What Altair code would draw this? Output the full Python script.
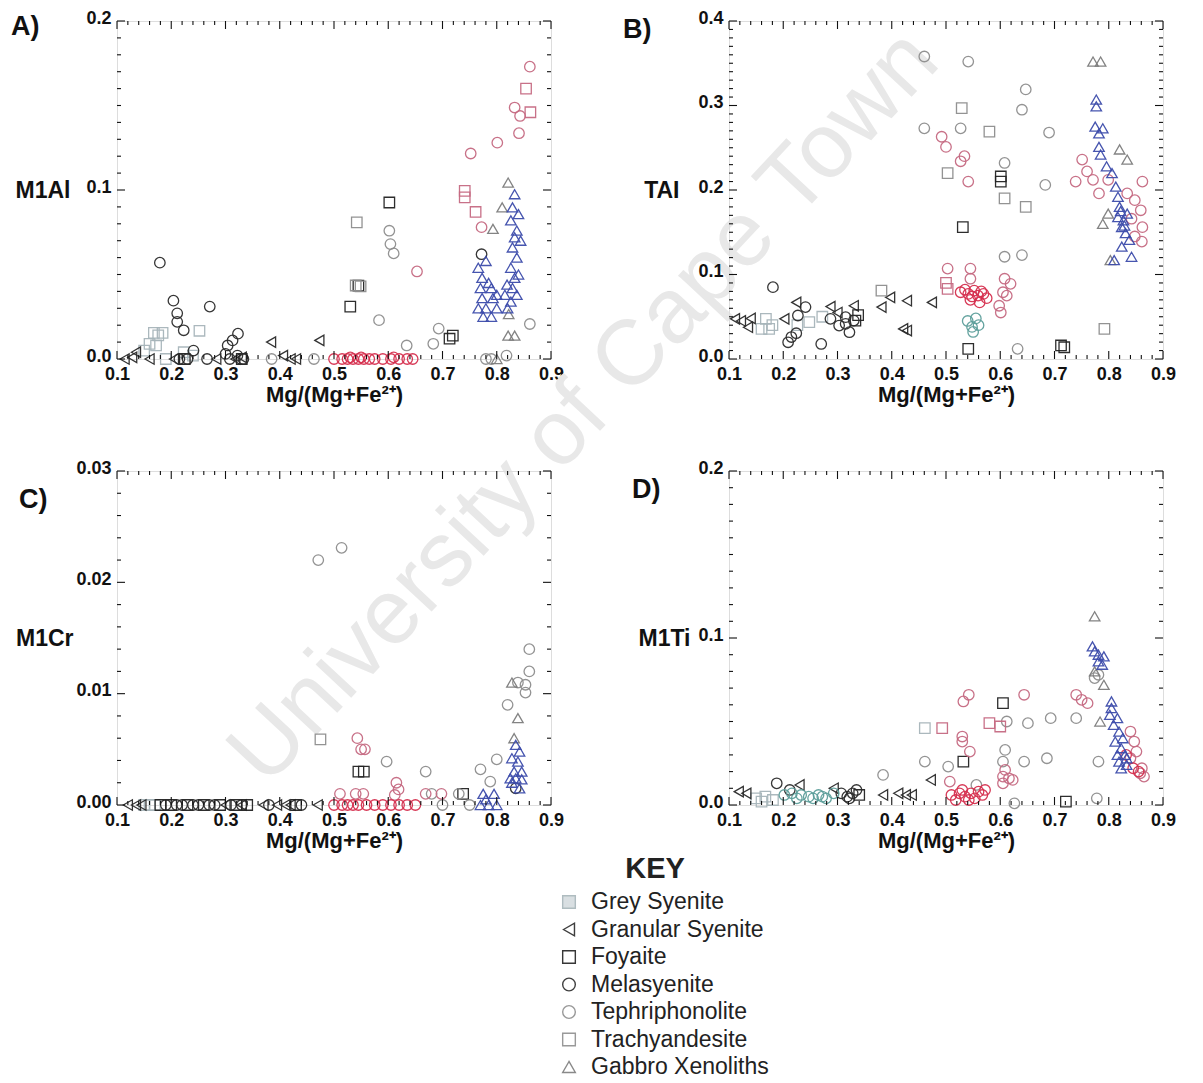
import altair as alt
import numpy as np
import pandas as pd

FONT = "Liberation Sans"
INK = "#111111"

# ---------------- axes / text ----------------
PANEL_LABELS = ["A)", "B)", "C)", "D)"]
Y_TITLES = ["M1Al", "TAI", "M1Cr", "M1Ti"]
X_TITLE = "Mg/(Mg+Fe²⁺)"
X_MAJOR = [0.1, 0.2, 0.3, 0.4, 0.5, 0.6, 0.7, 0.8, 0.9]
Y_MAJOR_A = [0.0, 0.1, 0.2]
Y_MAJOR_B = [0.0, 0.1, 0.2, 0.3, 0.4]
Y_MAJOR_C = [0.0, 0.01, 0.02, 0.03]
Y_MAJOR_D = [0.0, 0.1, 0.2]
Y_FORMATS = [".1f", ".1f", ".2f", ".1f"]
KEY_TITLE = "KEY"
KEY_LABELS = ["Grey Syenite", "Granular Syenite", "Foyaite", "Melasyenite",
              "Tephriphonolite", "Trachyandesite", "Gabbro Xenoliths"]
KEY_GROUPS = ["grey_syenite", "granular", "foyaite", "melasyenite",
              "tephriphonolite", "trachyandesite", "gabbro"]
KEY_FILLS = ["#d5dcdf", "transparent", "transparent", "transparent",
             "transparent", "transparent", "transparent"]
WATERMARK = "University of Cape Town"

# ---------------- groups (symbol + tone) ----------------
GROUP_NAMES = ["grey_syenite", "granular", "foyaite", "melasyenite", "tephriphonolite",
               "trachyandesite", "gabbro", "pink_circle", "pink_square", "red_circle",
               "blue_triangle", "teal_circle"]
GROUP_SHAPES = ["square", "triangle-left", "square", "circle", "circle",
                "square", "triangle-up", "circle", "square", "circle",
                "triangle-up", "circle"]
GROUP_COLORS = ["#a7b5ba", "#2a2a2a", "#222222", "#2c2c2c", "#8e8e8e",
                "#8e8e8e", "#7d7d7d", "#c66a82", "#c66a82", "#d6304f",
                "#3d4cab", "#5d9f9b"]

# ---------------- panel A: M1Al ----------------
A_GREY_SYENITE = [(0.150, 0.005), (0.160, 0.009), (0.168, 0.0155), (0.172, 0.008), (0.176, 0.014),
                  (0.184, 0.0155), (0.190, 0.0), (0.223, 0.004), (0.240, 0.002), (0.252, 0.0167)]
A_GRANULAR = [(0.114, 0.0), (0.128, 0.001), (0.135, 0.004), (0.160, 0.0), (0.205, 0.0), (0.283, 0.0),
              (0.318, 0.0), (0.330, 0.001), (0.384, 0.010), (0.406, 0.002), (0.420, 0.0), (0.430, 0.0),
              (0.473, 0.011)]
A_FOYAITE = [(0.225, 0.0), (0.330, 0.0), (0.530, 0.031), (0.545, 0.0434), (0.602, 0.0926),
             (0.713, 0.012), (0.719, 0.0138)]
A_MELASYENITE = [(0.179, 0.057), (0.204, 0.0345), (0.211, 0.027), (0.211, 0.022), (0.215, 0.0),
                 (0.223, 0.017), (0.230, 0.0), (0.241, 0.005), (0.266, 0.0), (0.271, 0.031),
                 (0.300, 0.003), (0.304, 0.008), (0.308, 0.0), (0.313, 0.011), (0.322, 0.002),
                 (0.323, 0.015), (0.333, 0.0), (0.772, 0.062)]
A_TEPHRIPHONOLITE = [(0.385, 0.0), (0.463, 0.0), (0.583, 0.023), (0.602, 0.0759), (0.604, 0.068),
                     (0.610, 0.0625), (0.634, 0.008), (0.683, 0.009), (0.693, 0.018), (0.780, 0.0),
                     (0.790, 0.0), (0.818, 0.002), (0.861, 0.0207)]
A_TRACHYANDESITE = [(0.540, 0.0435), (0.542, 0.0808), (0.549, 0.043)]
A_GABBRO = [(0.793, 0.077), (0.800, 0.0), (0.810, 0.0897), (0.821, 0.1044), (0.821, 0.0138),
            (0.822, 0.0266), (0.833, 0.0138)]
A_PINK_CIRCLE = [(0.653, 0.0518), (0.752, 0.1216), (0.772, 0.078), (0.801, 0.128), (0.833, 0.1488),
                 (0.841, 0.1336), (0.843, 0.1438), (0.861, 0.173)]
A_PINK_SQUARE = [(0.741, 0.0995), (0.741, 0.0956), (0.761, 0.087), (0.854, 0.160), (0.862, 0.146)]
A_RED_CIRCLE = [(0.500, 0.0), (0.515, 0.0), (0.525, 0.0), (0.530, 0.001), (0.535, 0.0), (0.545, 0.0),
                (0.550, 0.001), (0.555, 0.0), (0.565, 0.0), (0.575, 0.0), (0.590, 0.0), (0.605, 0.0),
                (0.610, 0.001), (0.620, 0.0), (0.635, 0.0), (0.645, 0.0)]
A_BLUE_TRIANGLE = [(0.766, 0.054), (0.773, 0.048), (0.770, 0.042), (0.773, 0.036), (0.780, 0.030),
                   (0.790, 0.042), (0.793, 0.036), (0.785, 0.045), (0.800, 0.038), (0.766, 0.030),
                   (0.800, 0.030), (0.780, 0.058), (0.775, 0.025), (0.790, 0.025), (0.833, 0.0975),
                   (0.829, 0.0897), (0.840, 0.0857), (0.826, 0.082), (0.837, 0.076), (0.833, 0.072),
                   (0.844, 0.070), (0.829, 0.066), (0.837, 0.060), (0.826, 0.054), (0.833, 0.048),
                   (0.819, 0.044), (0.829, 0.042), (0.815, 0.038), (0.826, 0.034), (0.837, 0.038),
                   (0.840, 0.050), (0.820, 0.030)]

# ---------------- panel B: TAl ----------------
B_GREY_SYENITE = [(0.160, 0.0356), (0.168, 0.0475), (0.174, 0.0356), (0.180, 0.040), (0.226, 0.040),
                  (0.248, 0.0436), (0.272, 0.050)]
B_GRANULAR = [(0.111, 0.0475), (0.122, 0.045), (0.135, 0.0376), (0.140, 0.048), (0.202, 0.0475),
              (0.224, 0.067), (0.287, 0.062), (0.300, 0.055), (0.330, 0.063), (0.381, 0.0614),
              (0.397, 0.073), (0.421, 0.0356), (0.428, 0.069), (0.428, 0.0337), (0.474, 0.067)]
B_FOYAITE = [(0.333, 0.0455), (0.338, 0.052), (0.531, 0.156), (0.541, 0.012), (0.601, 0.216),
             (0.601, 0.210), (0.712, 0.016), (0.718, 0.0139)]
B_MELASYENITE = [(0.181, 0.085), (0.209, 0.0198), (0.215, 0.026), (0.224, 0.0305), (0.227, 0.0515),
                 (0.241, 0.0614), (0.270, 0.0178), (0.287, 0.0475), (0.303, 0.0396), (0.315, 0.0495),
                 (0.315, 0.0416), (0.322, 0.0317), (0.330, 0.0455)]
B_TEPHRIPHONOLITE = [(0.460, 0.358), (0.541, 0.352), (0.647, 0.319), (0.640, 0.295), (0.460, 0.273),
                     (0.527, 0.273), (0.690, 0.268), (0.608, 0.232), (0.683, 0.206), (0.640, 0.123),
                     (0.608, 0.121), (0.632, 0.012)]
B_TRACHYANDESITE = [(0.381, 0.081), (0.503, 0.220), (0.529, 0.297), (0.580, 0.269), (0.608, 0.190),
                    (0.647, 0.180), (0.792, 0.0356)]
B_GABBRO = [(0.771, 0.352), (0.785, 0.352), (0.820, 0.248), (0.834, 0.236), (0.799, 0.172),
            (0.789, 0.160), (0.803, 0.117)]
B_PINK_CIRCLE = [(0.492, 0.263), (0.500, 0.251), (0.527, 0.234), (0.534, 0.240), (0.541, 0.210),
                 (0.503, 0.107), (0.545, 0.107), (0.545, 0.095), (0.608, 0.095), (0.619, 0.089),
                 (0.605, 0.079), (0.612, 0.075), (0.598, 0.063), (0.601, 0.055), (0.751, 0.236),
                 (0.760, 0.222), (0.739, 0.210), (0.771, 0.212), (0.782, 0.196), (0.799, 0.212),
                 (0.834, 0.196), (0.848, 0.188), (0.859, 0.176), (0.862, 0.156), (0.861, 0.139),
                 (0.862, 0.210), (0.842, 0.166), (0.848, 0.145)]
B_PINK_SQUARE = [(0.503, 0.083), (0.500, 0.090)]
B_RED_CIRCLE = [(0.527, 0.079), (0.535, 0.082), (0.541, 0.077), (0.548, 0.074), (0.552, 0.081),
                (0.559, 0.075), (0.565, 0.080), (0.569, 0.077), (0.562, 0.067), (0.545, 0.070),
                (0.575, 0.072)]
B_TEAL_CIRCLE = [(0.540, 0.045), (0.548, 0.038), (0.555, 0.048), (0.560, 0.040), (0.550, 0.032)]
B_BLUE_TRIANGLE = [(0.777, 0.307), (0.777, 0.299), (0.775, 0.275), (0.782, 0.267), (0.789, 0.273),
                   (0.782, 0.251), (0.785, 0.242), (0.796, 0.228), (0.806, 0.220), (0.813, 0.204),
                   (0.817, 0.192), (0.820, 0.180), (0.817, 0.168), (0.827, 0.164), (0.824, 0.156),
                   (0.831, 0.149), (0.834, 0.172), (0.838, 0.141), (0.824, 0.133), (0.842, 0.121),
                   (0.810, 0.117), (0.829, 0.158), (0.822, 0.175)]

# ---------------- panel C: M1Cr ----------------
C_GREY_SYENITE = [(0.150, 0.0), (0.160, 0.0), (0.170, 0.0)]
C_GRANULAR = [(0.120, 0.0), (0.135, 0.0), (0.145, 0.0), (0.300, 0.0), (0.330, 0.0), (0.370, 0.0),
              (0.395, 0.0), (0.410, 0.0), (0.420, 0.0), (0.470, 0.0)]
C_FOYAITE = [(0.180, 0.0), (0.200, 0.0), (0.230, 0.0), (0.260, 0.0), (0.290, 0.0), (0.320, 0.0),
             (0.340, 0.0), (0.430, 0.0), (0.545, 0.003), (0.555, 0.003), (0.738, 0.001)]
C_MELASYENITE = [(0.190, 0.0), (0.210, 0.0), (0.220, 0.0), (0.240, 0.0), (0.250, 0.0), (0.270, 0.0),
                 (0.280, 0.0), (0.310, 0.0), (0.330, 0.0), (0.380, 0.0), (0.440, 0.0), (0.835, 0.0015)]
C_TEPHRIPHONOLITE = [(0.471, 0.022), (0.514, 0.0231), (0.820, 0.009), (0.860, 0.014), (0.860, 0.012),
                     (0.839, 0.011), (0.853, 0.0101), (0.853, 0.0108), (0.800, 0.0041),
                     (0.770, 0.0032), (0.597, 0.0039), (0.669, 0.003), (0.788, 0.0021), (0.700, 0.0),
                     (0.730, 0.001), (0.750, 0.0), (0.680, 0.001)]
C_TRACHYANDESITE = [(0.475, 0.0059)]
C_GABBRO = [(0.828, 0.011), (0.839, 0.0078), (0.832, 0.006)]
C_PINK_CIRCLE = [(0.543, 0.006), (0.550, 0.005), (0.557, 0.005), (0.615, 0.002), (0.619, 0.0014),
                 (0.612, 0.0009), (0.511, 0.001), (0.540, 0.001), (0.554, 0.001), (0.698, 0.001),
                 (0.669, 0.001)]
C_RED_CIRCLE = [(0.500, 0.0), (0.515, 0.0), (0.525, 0.0), (0.535, 0.0), (0.545, 0.0), (0.560, 0.0),
                (0.575, 0.0), (0.590, 0.0), (0.605, 0.0), (0.620, 0.0), (0.635, 0.0), (0.650, 0.0)]
C_BLUE_TRIANGLE = [(0.835, 0.0054), (0.842, 0.0048), (0.828, 0.0042), (0.839, 0.0039), (0.832, 0.003),
                   (0.846, 0.003), (0.825, 0.0024), (0.835, 0.0024), (0.846, 0.0023), (0.828, 0.002),
                   (0.842, 0.0015), (0.775, 0.001), (0.785, 0.0), (0.795, 0.001), (0.780, 0.0005),
                   (0.800, 0.0), (0.770, 0.0)]

# ---------------- panel D: M1Ti ----------------
D_GREY_SYENITE = [(0.150, 0.004), (0.160, 0.002), (0.167, 0.005), (0.181, 0.003), (0.461, 0.046)]
D_GRANULAR = [(0.118, 0.008), (0.132, 0.007), (0.230, 0.012), (0.293, 0.010), (0.384, 0.006),
              (0.412, 0.007), (0.426, 0.006), (0.437, 0.006), (0.472, 0.015)]
D_FOYAITE = [(0.340, 0.006), (0.532, 0.026), (0.605, 0.061), (0.721, 0.002)]
D_MELASYENITE = [(0.188, 0.013), (0.212, 0.009), (0.307, 0.007), (0.318, 0.005), (0.322, 0.004),
                 (0.328, 0.007), (0.335, 0.009)]
D_TEPHRIPHONOLITE = [(0.774, 0.076), (0.781, 0.078), (0.781, 0.026), (0.740, 0.052), (0.693, 0.052),
                     (0.651, 0.049), (0.612, 0.050), (0.609, 0.033), (0.605, 0.026), (0.644, 0.026),
                     (0.686, 0.028), (0.461, 0.026), (0.504, 0.023), (0.384, 0.018), (0.626, 0.001),
                     (0.556, 0.012), (0.778, 0.004)]
D_GABBRO = [(0.774, 0.113), (0.774, 0.080), (0.791, 0.072), (0.784, 0.050)]
D_PINK_CIRCLE = [(0.542, 0.066), (0.532, 0.062), (0.644, 0.066), (0.740, 0.066), (0.750, 0.063),
                 (0.761, 0.061), (0.530, 0.041), (0.530, 0.038), (0.544, 0.032), (0.609, 0.021),
                 (0.605, 0.017), (0.616, 0.016), (0.623, 0.015), (0.605, 0.013), (0.840, 0.044),
                 (0.847, 0.038), (0.851, 0.032), (0.861, 0.022), (0.858, 0.019), (0.865, 0.017),
                 (0.840, 0.028), (0.507, 0.014)]
D_PINK_SQUARE = [(0.493, 0.046), (0.580, 0.049), (0.600, 0.047)]
D_RED_CIRCLE = [(0.510, 0.006), (0.525, 0.007), (0.535, 0.005), (0.546, 0.007), (0.553, 0.004),
                (0.560, 0.008), (0.567, 0.006), (0.518, 0.003), (0.542, 0.003), (0.530, 0.009),
                (0.572, 0.009), (0.832, 0.030), (0.845, 0.022), (0.855, 0.020)]
D_TEAL_CIRCLE = [(0.202, 0.006), (0.216, 0.007), (0.225, 0.004), (0.233, 0.006), (0.247, 0.005),
                 (0.255, 0.004), (0.265, 0.006), (0.272, 0.005), (0.279, 0.004), (0.293, 0.007)]
D_BLUE_TRIANGLE = [(0.770, 0.095), (0.774, 0.092), (0.781, 0.090), (0.791, 0.089), (0.781, 0.086),
                   (0.788, 0.084), (0.805, 0.062), (0.805, 0.058), (0.802, 0.054), (0.816, 0.052),
                   (0.809, 0.048), (0.819, 0.044), (0.812, 0.038), (0.823, 0.034), (0.816, 0.030),
                   (0.830, 0.030), (0.819, 0.026), (0.833, 0.024), (0.823, 0.022), (0.833, 0.028),
                   (0.826, 0.040)]

SOURCES = [
    ("A", "grey_syenite", A_GREY_SYENITE), ("A", "granular", A_GRANULAR), ("A", "foyaite", A_FOYAITE),
    ("A", "melasyenite", A_MELASYENITE), ("A", "tephriphonolite", A_TEPHRIPHONOLITE),
    ("A", "trachyandesite", A_TRACHYANDESITE), ("A", "gabbro", A_GABBRO),
    ("A", "pink_circle", A_PINK_CIRCLE), ("A", "pink_square", A_PINK_SQUARE),
    ("A", "red_circle", A_RED_CIRCLE), ("A", "blue_triangle", A_BLUE_TRIANGLE),
    ("B", "grey_syenite", B_GREY_SYENITE), ("B", "granular", B_GRANULAR), ("B", "foyaite", B_FOYAITE),
    ("B", "melasyenite", B_MELASYENITE), ("B", "tephriphonolite", B_TEPHRIPHONOLITE),
    ("B", "trachyandesite", B_TRACHYANDESITE), ("B", "gabbro", B_GABBRO),
    ("B", "pink_circle", B_PINK_CIRCLE), ("B", "pink_square", B_PINK_SQUARE),
    ("B", "red_circle", B_RED_CIRCLE), ("B", "teal_circle", B_TEAL_CIRCLE),
    ("B", "blue_triangle", B_BLUE_TRIANGLE),
    ("C", "grey_syenite", C_GREY_SYENITE), ("C", "granular", C_GRANULAR), ("C", "foyaite", C_FOYAITE),
    ("C", "melasyenite", C_MELASYENITE), ("C", "tephriphonolite", C_TEPHRIPHONOLITE),
    ("C", "trachyandesite", C_TRACHYANDESITE), ("C", "gabbro", C_GABBRO),
    ("C", "pink_circle", C_PINK_CIRCLE), ("C", "red_circle", C_RED_CIRCLE),
    ("C", "blue_triangle", C_BLUE_TRIANGLE),
    ("D", "grey_syenite", D_GREY_SYENITE), ("D", "granular", D_GRANULAR), ("D", "foyaite", D_FOYAITE),
    ("D", "melasyenite", D_MELASYENITE), ("D", "tephriphonolite", D_TEPHRIPHONOLITE),
    ("D", "gabbro", D_GABBRO), ("D", "pink_circle", D_PINK_CIRCLE), ("D", "pink_square", D_PINK_SQUARE),
    ("D", "red_circle", D_RED_CIRCLE), ("D", "teal_circle", D_TEAL_CIRCLE),
    ("D", "blue_triangle", D_BLUE_TRIANGLE),
]

rows = []
for panel, group, pts in SOURCES:
    for x, y in pts:
        rows.append({"panel": panel, "group": group, "x": x, "y": y})
POINTS = pd.DataFrame(rows)

PANEL_IDS = ["A", "B", "C", "D"]
Y_MAJORS = [Y_MAJOR_A, Y_MAJOR_B, Y_MAJOR_C, Y_MAJOR_D]
Y_MINOR_STEPS = [0.01, 0.01, 0.002, 0.01]
X_MINOR_STEP = 0.02

# layout (pixels)
W = 434
COL_GAP = 178
ROW_GAP = 112
HEIGHTS = [338, 338, 334, 334]
TITLE_X = [-47, -50, -44, -39]
LABEL_POS = [(-106, 6), (-106, 9), (-98, 29), (-97, 19)]


def minor_values(lo, hi, step, majors):
    vals = np.round(np.arange(lo, hi + step / 2, step), 6)
    return [float(v) for v in vals if min(abs(v - m) for m in majors) > step / 4]


def rule_layer(values, side, length, xs, ys, H):
    df = pd.DataFrame({"v": values})
    m = alt.Chart(df).mark_rule(color=INK, strokeWidth=1.1)
    if side == "bottom":
        return m.encode(x=alt.X("v:Q", scale=xs), y=alt.value(H), y2=alt.value(H - length))
    if side == "top":
        return m.encode(x=alt.X("v:Q", scale=xs), y=alt.value(0), y2=alt.value(length))
    if side == "left":
        return m.encode(y=alt.Y("v:Q", scale=ys), x=alt.value(0), x2=alt.value(length))
    return m.encode(y=alt.Y("v:Q", scale=ys), x=alt.value(W), x2=alt.value(W - length))


shape_scale = alt.Scale(domain=GROUP_NAMES, range=GROUP_SHAPES)
color_scale = alt.Scale(domain=GROUP_NAMES, range=GROUP_COLORS)


def panel_chart(i):
    H = HEIGHTS[i]
    ymaj = Y_MAJORS[i]
    xs = alt.Scale(domain=[X_MAJOR[0], X_MAJOR[-1]], nice=False, zero=False)
    ys = alt.Scale(domain=[ymaj[0], ymaj[-1]], nice=False, zero=False)
    df = POINTS[POINTS["panel"] == PANEL_IDS[i]]
    pts = alt.Chart(df).mark_point(filled=False, size=110, strokeWidth=1.3, opacity=0.95).encode(
        x=alt.X("x:Q", scale=xs, axis=alt.Axis(
            values=X_MAJOR, format=".1f", ticks=False, tickSize=0, domain=False, grid=False,
            labelFlush=False, labelOverlap=False, labelFont=FONT, labelFontSize=18,
            labelFontWeight="bold", labelColor=INK, labelPadding=6,
            title=X_TITLE, titleFont=FONT, titleFontSize=22, titleFontWeight="bold",
            titleColor=INK, titlePadding=1)),
        y=alt.Y("y:Q", scale=ys, axis=alt.Axis(
            values=ymaj, format=Y_FORMATS[i], ticks=False, tickSize=0, domain=False, grid=False,
            labelOverlap=False, labelFont=FONT, labelFontSize=18, labelFontWeight="bold",
            labelColor=INK, labelPadding=6, labelOffset=-3,
            title=Y_TITLES[i], titleFont=FONT, titleFontSize=23, titleFontWeight="bold",
            titleColor=INK, titleAngle=0, titleAlign="right", titleBaseline="middle",
            titleX=TITLE_X[i], titleY=H / 2)),
        shape=alt.Shape("group:N", scale=shape_scale, legend=None),
        stroke=alt.Stroke("group:N", scale=color_scale, legend=None),
    )
    xminor = minor_values(X_MAJOR[0], X_MAJOR[-1], X_MINOR_STEP, X_MAJOR)
    yminor = minor_values(ymaj[0], ymaj[-1], Y_MINOR_STEPS[i], ymaj)
    layers = []
    if i == 0:
        wm = alt.Chart(pd.DataFrame({"t": [WATERMARK]})).mark_text(
            font=FONT, fontSize=92, color="#e8e8e8", angle=313, align="center", baseline="middle"
        ).encode(x=alt.value(467), y=alt.value(386), text="t:N")
        layers.append(wm)
    layers.append(pts)
    for side in ["bottom", "top"]:
        layers.append(rule_layer(X_MAJOR, side, 8, xs, ys, H))
        layers.append(rule_layer(xminor, side, 4, xs, ys, H))
    for side in ["left", "right"]:
        layers.append(rule_layer(ymaj, side, 8, xs, ys, H))
        layers.append(rule_layer(yminor, side, 4, xs, ys, H))
    lx, ly = LABEL_POS[i]
    lab = alt.Chart(pd.DataFrame({"t": [PANEL_LABELS[i]]})).mark_text(
        font=FONT, fontSize=27, fontWeight="bold", color=INK, align="left", baseline="middle"
    ).encode(x=alt.value(lx), y=alt.value(ly), text="t:N")
    layers.append(lab)
    return alt.layer(*layers).properties(width=W, height=H)


A, B, C, D = [panel_chart(i) for i in range(4)]

# ---------------- key (sits below panel C, drawn to the right of its cell) ----------------
KEY_H = 165
KEY_SHIFT = -15
key_df = pd.DataFrame({"label": KEY_LABELS, "group": KEY_GROUPS, "fill": KEY_FILLS})
key_y = alt.Y("label:N", sort=KEY_LABELS, axis=None,
              scale=alt.Scale(padding=0, range=[KEY_SHIFT, KEY_SHIFT + KEY_H]))
key_sym = alt.Chart(key_df).mark_point(size=160, strokeWidth=1.4, opacity=0.9).encode(
    x=alt.value(452), y=key_y,
    shape=alt.Shape("group:N", scale=shape_scale, legend=None),
    stroke=alt.Stroke("group:N", scale=color_scale, legend=None),
    fill=alt.Fill("fill:N", scale=None),
)
key_txt = alt.Chart(key_df).mark_text(
    font=FONT, fontSize=23, color="#222222", align="left", baseline="middle"
).encode(x=alt.value(474), y=key_y, text="label:N")
key_head = alt.Chart(pd.DataFrame({"t": [KEY_TITLE]})).mark_text(
    font=FONT, fontSize=29, fontWeight="bold", color="#222222", align="center", baseline="middle"
).encode(x=alt.value(538), y=alt.value(KEY_SHIFT - 33), text="t:N")
key = alt.layer(key_head, key_sym, key_txt).properties(
    width=W, height=KEY_H, view=alt.ViewBackground(stroke="transparent"))

chart = alt.concat(
    A, B, C, D, key, columns=2, bounds="flush",
    spacing={"row": ROW_GAP, "column": COL_GAP},
    padding={"left": 2, "top": 0, "right": 5, "bottom": 0},
).configure_view(stroke=INK, strokeWidth=1.3).configure(background="white")

chart.save("out.html", embed_options={"renderer": "svg", "actions": False})
